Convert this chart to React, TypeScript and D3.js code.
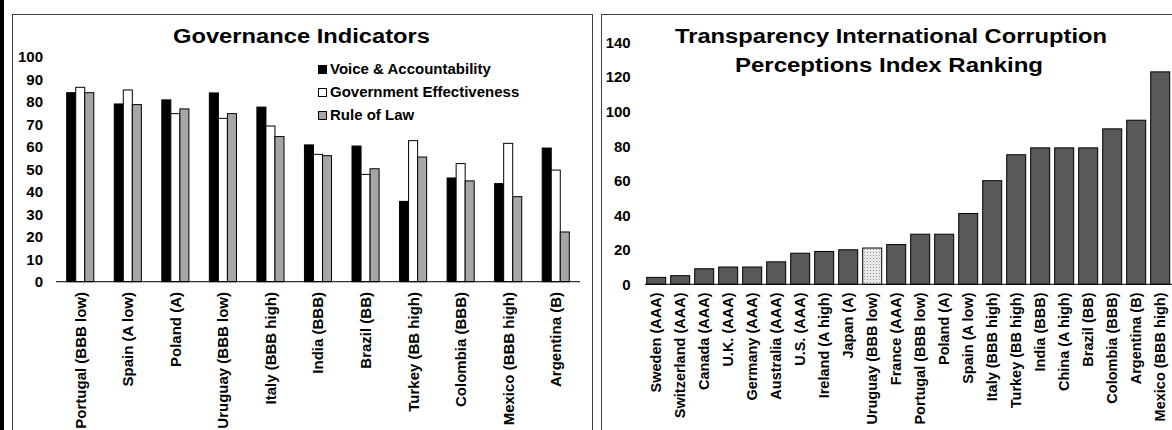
import React from "react";
import * as d3 from "d3";

const govCountries = [
  "Portugal (BBB low)", "Spain (A low)", "Poland (A)", "Uruguay (BBB low)", "Italy (BBB high)",
  "India (BBB)", "Brazil (BB)", "Turkey (BB high)", "Colombia (BBB)", "Mexico (BBB high)", "Argentina (B)",
];
const govSeries = ["Voice & Accountability", "Government Effectiveness", "Rule of Law"];
const voiceAccountability = [84, 79, 80.8, 83.9, 77.6, 60.8, 60.3, 35.7, 46.1, 43.6, 59.4];
const govEffectiveness = [86.4, 85.2, 74.7, 72.6, 69.2, 56.6, 47.7, 62.7, 52.5, 61.5, 49.6];
const ruleOfLaw = [84, 78.7, 76.8, 74.7, 64.5, 56, 50.2, 55.4, 44.8, 37.8, 22.1];
const govTicks = [0, 10, 20, 30, 40, 50, 60, 70, 80, 90, 100];

const cpiCountries = [
  "Sweden (AAA)", "Switzerland (AAA)", "Canada (AAA)", "U.K. (AAA)", "Germany (AAA)", "Australia (AAA)",
  "U.S. (AAA)", "Ireland (A high)", "Japan (A)", "Uruguay (BBB low)", "France (AAA)", "Portugal (BBB low)",
  "Poland (A)", "Spain (A low)", "Italy (BBB high)", "Turkey (BB high)", "India (BBB)", "China (A high)",
  "Brazil (BB)", "Colombia (BBB)", "Argentina (B)", "Mexico (BBB high)",
];
const cpiRank = [4, 5, 9, 10, 10, 13, 18, 19, 20, 21, 23, 29, 29, 41, 60, 75, 79, 79, 79, 90, 95, 123];
const cpiTicks = [0, 20, 40, 60, 80, 100, 120, 140];
const highlighted = "Uruguay (BBB low)";

const FONT = "'Liberation Sans', Arial, Helvetica, sans-serif";
const seriesFill = ["#000000", "#ffffff", "#a6a6a6"];

export default function App() {
  const govValues = [voiceAccountability, govEffectiveness, ruleOfLaw];

  // Left chart scales
  const yL = d3.scaleLinear().domain([0, 100]).range([281.7, 56.7]);
  const xL = d3.scaleBand<string>().domain(govCountries).range([56, 580]).paddingInner(0.43).paddingOuter(0.225);
  const xSub = d3.scaleBand<string>().domain(govSeries).range([0, xL.bandwidth()]).padding(0);

  // Right chart scales
  const yR = d3.scaleLinear().domain([0, 140]).range([284.3, 42.5]);
  const xR = d3.scaleBand<string>().domain(cpiCountries).range([644.2, 1172.2]).paddingInner(0.208).paddingOuter(0.104);

  return (
    <svg width={1172} height={430} style={{ position: "absolute", left: 0, top: 0, background: "#fff" }}
      fontFamily={FONT} fontWeight="bold">
      <defs>
        <pattern id="dots" width="3" height="3" patternUnits="userSpaceOnUse">
          <rect width="3" height="3" fill="#f2f2f2" />
          <rect x="0" y="0" width="1" height="1" fill="#8c8c8c" />
          <rect x="1.5" y="1.5" width="1" height="1" fill="#b0b0b0" />
        </pattern>
      </defs>
      <rect x={0} y={0} width={1172} height={430} fill="#fff" />
      <rect x={0} y={0} width={4} height={430} fill="#000" />

      {/* Left panel */}
      <rect x={12.5} y={14.5} width={580} height={500} fill="none" stroke="#404040" strokeWidth={1} />
      <text x={301.5} y={42.7} textAnchor="middle" fontSize={20} textLength={257} lengthAdjust="spacingAndGlyphs">
        Governance Indicators
      </text>
      {govTicks.map((t) => (
        <text key={t} x={43} y={yL(t)} dy="0.36em" textAnchor="end" fontSize={15}>{t}</text>
      ))}
      {govCountries.map((c, i) => (
        <g key={c} transform={`translate(${xL(c)},0)`}>
          {govSeries.map((s, j) => (
            <rect key={s} x={xSub(s)!} y={yL(govValues[j][i])} width={xSub.bandwidth()}
              height={yL(0) - yL(govValues[j][i])} fill={seriesFill[j]} stroke="#000" strokeWidth={1} />
          ))}
        </g>
      ))}
      <line x1={56} x2={580} y1={yL(0)} y2={yL(0)} stroke="#000" strokeWidth={1} />
      {govCountries.map((c) => (
        <text key={c} transform={`translate(${xL(c)! + xL.bandwidth() / 2},292) rotate(-90)`}
          textAnchor="end" dy="0.36em" fontSize={15}>{c}</text>
      ))}
      {govSeries.map((s, j) => (
        <g key={s} transform={`translate(318,${65 + j * 23})`}>
          <rect x={0.5} y={0.5} width={8} height={8} fill={seriesFill[j]} stroke="#000" strokeWidth={1} />
          <text x={12} y={8.5} fontSize={15}>{s}</text>
        </g>
      ))}

      {/* Right panel */}
      <rect x={601.5} y={14.5} width={580} height={500} fill="none" stroke="#404040" strokeWidth={1} />
      <text x={891} y={43.3} textAnchor="middle" fontSize={20} textLength={432} lengthAdjust="spacingAndGlyphs">
        Transparency International Corruption
      </text>
      <text x={889} y={71.7} textAnchor="middle" fontSize={20} textLength={308} lengthAdjust="spacingAndGlyphs">
        Perceptions Index Ranking
      </text>
      {cpiTicks.map((t) => (
        <text key={t} x={630.7} y={yR(t)} dy="0.36em" textAnchor="end" fontSize={15}>{t}</text>
      ))}
      {cpiCountries.map((c, i) => (
        <rect key={c} x={xR(c)} y={yR(cpiRank[i])} width={xR.bandwidth()} height={yR(0) - yR(cpiRank[i])}
          fill={c === highlighted ? "url(#dots)" : "#595959"} stroke="#000" strokeWidth={1} />
      ))}
      <line x1={645} x2={1172} y1={yR(0)} y2={yR(0)} stroke="#000" strokeWidth={1} />
      {cpiCountries.map((c) => (
        <text key={c} transform={`translate(${xR(c)! + xR.bandwidth() / 2},292.5) rotate(-90)`}
          textAnchor="end" dy="0.36em" fontSize={14.5}>{c}</text>
      ))}
    </svg>
  );
}
